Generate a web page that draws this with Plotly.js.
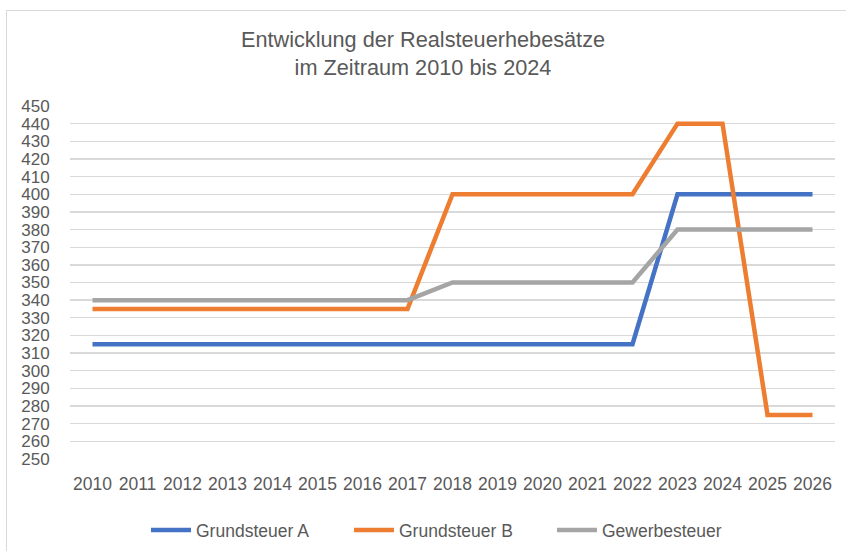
<!DOCTYPE html>
<html>
<head>
<meta charset="utf-8">
<script src="https://cdn.plot.ly/plotly-3.0.1.min.js"></script>
<style>
  html, body { margin: 0; padding: 0; background: #ffffff; }
  #frame { position: absolute; left: 6px; top: 10px; width: 900px; height: 600px; border: 1.5px solid #d9d9d9; box-sizing: border-box; }
  #chart { position: absolute; left: 0; top: 0; width: 846px; height: 551px; }
</style>
</head>
<body>
<div id="frame"></div>
<div id="chart"></div>
<script>
const years = [2010, 2011, 2012, 2013, 2014, 2015, 2016, 2017, 2018, 2019, 2020, 2021, 2022, 2023, 2024, 2025, 2026];
const grundsteuerA = [315, 315, 315, 315, 315, 315, 315, 315, 315, 315, 315, 315, 315, 400, 400, 400, 400];
const grundsteuerB = [335, 335, 335, 335, 335, 335, 335, 335, 400, 400, 400, 400, 400, 440, 440, 275, 275];
const gewerbesteuer = [340, 340, 340, 340, 340, 340, 340, 340, 350, 350, 350, 350, 350, 380, 380, 380, 380];
const seriesNames = ["Grundsteuer A", "Grundsteuer B", "Gewerbesteuer"];
const yTicks = [250, 260, 270, 280, 290, 300, 310, 320, 330, 340, 350, 360, 370, 380, 390, 400, 410, 420, 430, 440, 450];

const font = { family: "Liberation Sans, Arial, sans-serif", color: "#595959" };
const colors = ["#4472C4", "#ED7D31", "#A5A5A5"];
const series = [grundsteuerA, grundsteuerB, gewerbesteuer];

const traces = series.map((vals, i) => ({
  x: years,
  y: vals,
  name: seriesNames[i],
  type: "scatter",
  mode: "lines",
  line: { color: colors[i], width: 4.5 }
}));

const layout = {
  width: 846,
  height: 551,
  paper_bgcolor: "rgba(0,0,0,0)",
  plot_bgcolor: "rgba(0,0,0,0)",
  margin: { l: 70, r: 11, t: 106, b: 92 },
  font: Object.assign({ size: 17 }, font),
  title: {
    text: "Entwicklung der Realsteuerhebesätze<br>im Zeitraum 2010 bis 2024",
    font: Object.assign({ size: 21.7 }, font),
    x: 0.5, xanchor: "center",
    yref: "container", y: 1 - 47 / 551, yanchor: "middle"
  },
  xaxis: {
    range: [2009.5, 2026.5],
    tickvals: years,
    ticktext: years.map(String),
    showgrid: false,
    zeroline: false,
    showline: false,
    ticks: "outside", ticklen: 9, tickcolor: "rgba(0,0,0,0)",
    tickfont: Object.assign({ size: 17.5 }, font),
    fixedrange: true
  },
  yaxis: {
    range: [250, 450],
    tickvals: yTicks,
    showgrid: true,
    gridcolor: "#d9d9d9",
    gridwidth: 1.3,
    zeroline: false,
    showline: false,
    ticks: "outside", ticklen: 16, tickcolor: "rgba(0,0,0,0)",
    tickfont: Object.assign({ size: 17 }, font),
    fixedrange: true
  },
  showlegend: true,
  legend: {
    orientation: "h",
    x: 146 / 846, xref: "container", xanchor: "left",
    y: 1 - 530 / 551, yref: "container", yanchor: "middle",
    font: Object.assign({ size: 17.5 }, font),
    entrywidth: 148, entrywidthmode: "pixels",
    itemwidth: 40
  }
};

Plotly.newPlot("chart", traces, layout, { displayModeBar: false, staticPlot: true });
</script>
</body>
</html>
